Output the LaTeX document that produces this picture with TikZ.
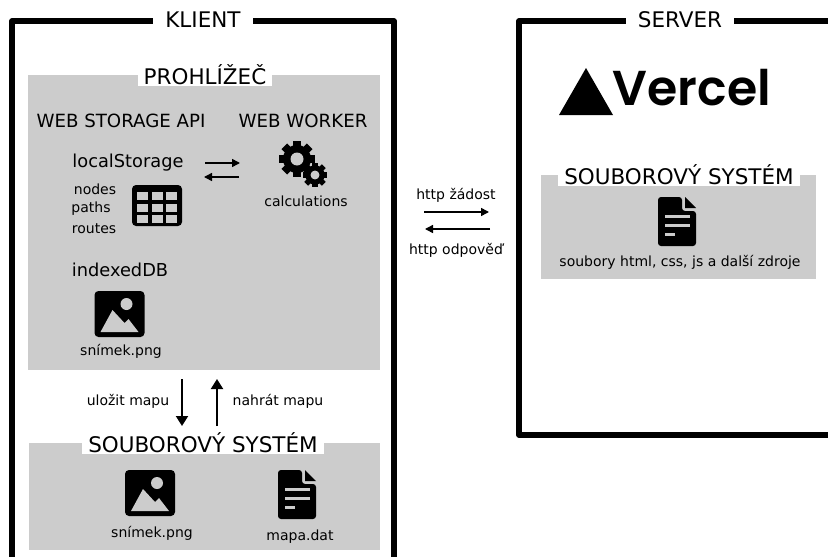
\documentclass[tikz,border=0pt]{standalone}
\usepackage{fontspec}
\setmainfont{DejaVu Sans}
\newfontfamily\logofont{Poppins SemiBold}
\usepackage{tikz}
\usepackage{xcolor}
\usetikzlibrary{arrows.meta}
\definecolor{panel}{RGB}{204,204,204}
\tikzset{
    frame/.style={line width=5.5pt,line join=round},
    panelbox/.style={fill=panel},
    title/.style={fill=white,inner xsep=6pt,inner ysep=0.5pt,font=\fontsize{21.5}{24}\selectfont},
    heading/.style={font=\fontsize{18.2}{20}\selectfont},
    storage/.style={font=\fontsize{17.8}{20}\selectfont},
    caption/.style={font=\fontsize{14}{16}\selectfont},
    flow/.style={-{Triangle[length=8pt,width=8pt]},line width=1.5pt},
    flowbig/.style={-{Triangle[length=10pt,width=12pt]},line width=2pt},
    pics/imageicon/.style={code={
        \fill[rounded corners=4pt] (0,0) rectangle (50,46);
        \fill[panel] (32,13) circle (6);
        \fill[panel] (6,41) -- (18,19) -- (30,32) -- (34,28) -- (44,41) -- cycle;
    }},
    pics/fileicon/.style={code={
        \fill[rounded corners=3pt] (0,0) -- (24,0) -- (24,14) -- (38,14) -- (38,49) -- (0,49) -- cycle;
        \fill (27,0) -- (38,11) -- (27,11) -- cycle;
        \draw[panel,line width=3pt] (7,19) -- (32,19) (7,28) -- (32,28) (7,37) -- (17,37);
    }},
    pics/cogicon/.style={code={
        \fill (0,0) circle (14);
        \foreach \a in {0,45,90,135}
            \fill[rotate=\a] (-4,-18) rectangle (4,18);
        \fill[panel] (0,0) circle (6.5);
    }},
}
\begin{document}
\begin{tikzpicture}[x=1pt,y=-1pt]
    \useasboundingbox (0,0) rectangle (828,557);
    % frames
    \draw[frame] (12,557) -- (12,21) -- (394,21) -- (394,557);
    \draw[frame] (850,435) -- (519,435) -- (519,21) -- (850,21);
    \node[title,inner xsep=12pt] (klient) at (203,20) {KLIENT};
    \node[title,inner xsep=12pt] (server) at (680,20) {SERVER};
    % panels
    \fill[panelbox] (28,75) rectangle (380,370);
    \fill[panelbox] (29,443) rectangle (380,550);
    \fill[panelbox] (541,175) rectangle (816,279);
    \node[title] (browser) at (205,75) {PROHLÍŽEČ};
    \node[title] (clientfs) at (203,443) {SOUBOROVÝ SYSTÉM};
    \node[title] (serverfs) at (679,175) {SOUBOROVÝ SYSTÉM};
    % browser
    \node[heading] (webstorage) at (121,121) {WEB STORAGE API};
    \node[heading] (webworker) at (303,121) {WEB WORKER};
    \node[storage] (local) at (128,163) {localStorage};
    \node[caption] (nodes) at (95,189) {nodes};
    \node[caption] (paths) at (91,209) {paths};
    \node[caption] (routes) at (94,229) {routes};
    \node[storage] (indexed) at (120,270) {indexedDB};
    \node[caption] (calc) at (306,201) {calculations};
    \node[caption] (shot) at (121,351) {snímek.png};
    \fill[rounded corners=4pt] (132,185) rectangle (182,226);
    \foreach \col in {0,1,2}
        \foreach \row in {0,1,2}
            \fill[panel] (137+\col*14.5,192+\row*11.5) rectangle ++(11,8);
    \pic at (297,159) {cogicon};
    \pic[scale=0.69] at (315,175) {cogicon};
    \pic at (94.5,291) {imageicon};
    % client files
    \pic at (125,470) {imageicon};
    \pic at (278,470) {fileicon};
    \node[caption] (shotfile) at (152,533) {snímek.png};
    \node[caption] (mapfile) at (300,537) {mapa.dat};
    % server
    \fill (559,115) -- (586,68) -- (613,115) -- cycle;
    \node[font=\logofont\fontsize{49}{50}\selectfont] (vercel) at (692,88) {Vercel};
    \pic at (658,197) {fileicon};
    \node[caption] (sources) at (680,262) {soubory html, css, js a další zdroje};
    % arrows
    \coordinate (calcA) at (205,163);
    \coordinate (calcB) at (240,163);
    \coordinate (calcC) at (239,177);
    \coordinate (calcD) at (204,177);
    \draw[flow] (calcA) -- (calcB);
    \draw[flow] (calcC) -- (calcD);
    \coordinate (saveA) at (182,379);
    \coordinate (saveB) at (182,426);
    \coordinate (loadA) at (217,426);
    \coordinate (loadB) at (217,379);
    \draw[flowbig] (saveA) -- (saveB);
    \draw[flowbig] (loadA) -- (loadB);
    \node[caption] (save) at (128,401) {uložit mapu};
    \node[caption] (load) at (278,401) {nahrát mapu};
    \coordinate (httpA) at (424,212);
    \coordinate (httpB) at (489,212);
    \coordinate (httpC) at (490,229);
    \coordinate (httpD) at (425,229);
    \draw[flow] (httpA) -- (httpB);
    \draw[flow] (httpC) -- (httpD);
    \node[caption] (request) at (456,195) {http žádost};
    \node[caption] (response) at (456,250) {http odpověď};
\end{tikzpicture}
\end{document}
